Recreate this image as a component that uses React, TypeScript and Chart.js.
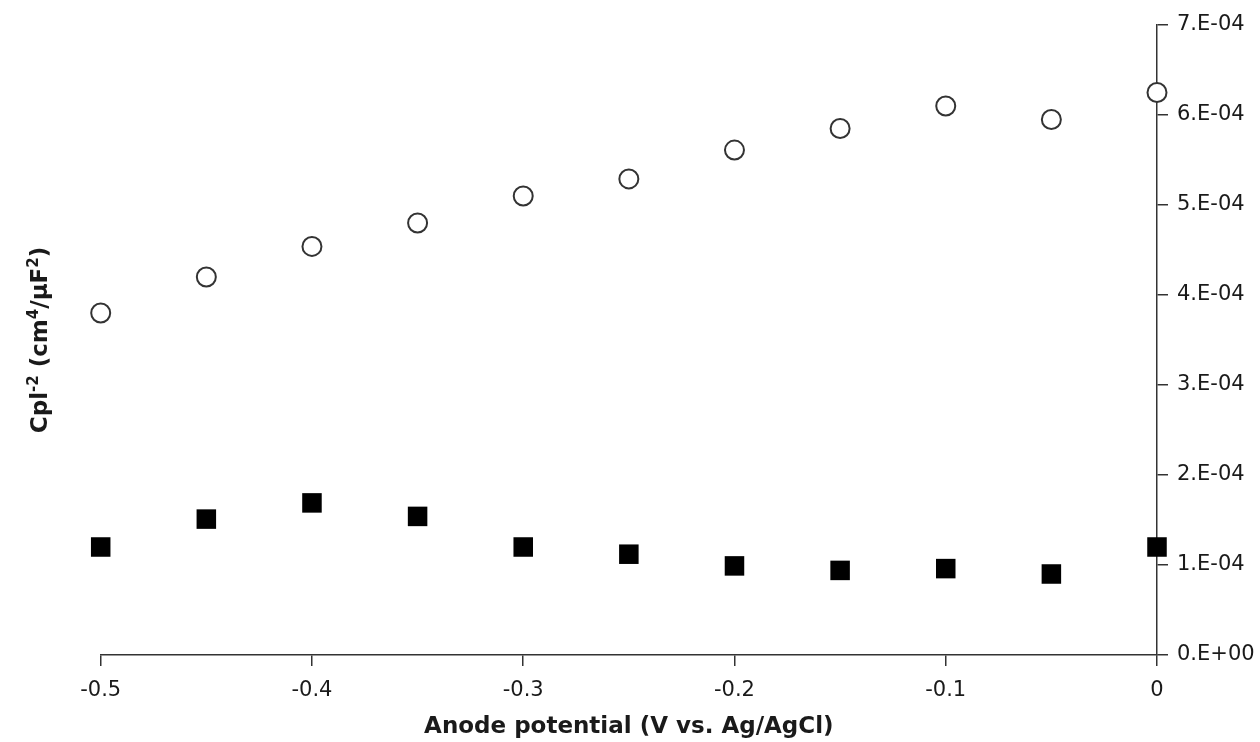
import React, { useEffect, useRef } from "react";
import { Chart, registerables } from "chart.js";

Chart.register(...registerables);

// ---- data ----
const potentials = [-0.5, -0.45, -0.4, -0.35, -0.3, -0.25, -0.2, -0.15, -0.1, -0.05, 0];
const openCircleValues = [3.8e-4, 4.2e-4, 4.54e-4, 4.8e-4, 5.1e-4, 5.29e-4, 5.61e-4, 5.85e-4, 6.1e-4, 5.95e-4, 6.25e-4];
const filledSquareValues = [1.2e-4, 1.51e-4, 1.69e-4, 1.54e-4, 1.2e-4, 1.12e-4, 0.99e-4, 0.94e-4, 0.96e-4, 0.9e-4, 1.2e-4];
const xAxisTitle = "Anode potential (V vs. Ag/AgCl)";
const yAxisTitleParts = [
  { text: "Cpl", sup: false },
  { text: "-2", sup: true },
  { text: " (cm", sup: false },
  { text: "4", sup: true },
  { text: "/\u03bcF", sup: false },
  { text: "2", sup: true },
  { text: ")", sup: false },
];

const FONT = "'DejaVu Sans', 'Liberation Sans', Arial, sans-serif";
const AXIS_COLOR = "#333";
const TEXT_COLOR = "#1a1a1a";

function fmtSci(v: number): string {
  if (Math.abs(v) < 1e-12) return "0.E+00";
  const e = Math.floor(Math.log10(Math.abs(v)) + 1e-9);
  const m = Math.round(v / Math.pow(10, e));
  return `${m}.E${e < 0 ? "-" : "+"}${String(Math.abs(e)).padStart(2, "0")}`;
}

function fmtX(v: number): string {
  if (Math.abs(v) < 1e-9) return "0";
  return v.toFixed(1);
}

const titlesPlugin = {
  id: "titlesPlugin",
  afterDraw(chart: any) {
    const ctx = chart.ctx as CanvasRenderingContext2D;
    const area = chart.chartArea;
    ctx.save();
    ctx.fillStyle = TEXT_COLOR;
    // x title
    ctx.font = `bold 23px ${FONT}`;
    ctx.textAlign = "center";
    ctx.textBaseline = "alphabetic";
    ctx.fillText(xAxisTitle, (area.left + area.right) / 2, 733);

    // y title (rotated, with superscripts)
    const mainFont = `bold 23px ${FONT}`;
    const supFont = `bold 15px ${FONT}`;
    let total = 0;
    for (const p of yAxisTitleParts) {
      ctx.font = p.sup ? supFont : mainFont;
      total += ctx.measureText(p.text).width;
    }
    const cy = 340;
    ctx.translate(47, cy + total / 2);
    ctx.rotate(-Math.PI / 2);
    ctx.textAlign = "left";
    let x = 0;
    for (const p of yAxisTitleParts) {
      ctx.font = p.sup ? supFont : mainFont;
      ctx.fillText(p.text, x, p.sup ? -9 : 0);
      x += ctx.measureText(p.text).width;
    }
    ctx.restore();
  },
};

export default function App() {
  const canvasRef = useRef<HTMLCanvasElement | null>(null);

  useEffect(() => {
    document.body.style.margin = "0";
    const canvas = canvasRef.current;
    if (!canvas) return;
    const chart = new Chart(canvas, {
      type: "scatter",
      data: {
        datasets: [
          {
            label: "open",
            data: potentials.map((x, i) => ({ x, y: openCircleValues[i] })),
            pointStyle: "circle",
            pointRadius: 9.5,
            pointBorderWidth: 2,
            pointBorderColor: "#333",
            pointBackgroundColor: "#fff",
            showLine: false,
            clip: false as any,
          },
          {
            label: "filled",
            data: potentials.map((x, i) => ({ x, y: filledSquareValues[i] })),
            pointStyle: "rect",
            pointRadius: 13.8,
            pointBorderWidth: 0,
            pointBackgroundColor: "#000",
            pointBorderColor: "#000",
            showLine: false,
            clip: false as any,
          },
        ],
      },
      options: {
        responsive: false,
        animation: false,
        devicePixelRatio: 1,
        layout: { padding: { left: 100.7, top: 25, right: 0, bottom: 0 } },
        plugins: {
          legend: { display: false },
          tooltip: { enabled: false },
        },
        scales: {
          x: {
            type: "linear",
            position: "bottom",
            min: -0.5,
            max: 0,
            afterFit: (scale: any) => {
              scale.height = 87;
            },
            ticks: {
              stepSize: 0.1,
              callback: (v: any) => fmtX(Number(v)),
              font: { family: FONT, size: 21 },
              color: TEXT_COLOR,
              padding: 12,
              maxRotation: 0,
            },
            grid: {
              display: true,
              drawOnChartArea: false,
              drawTicks: true,
              tickLength: 11,
              color: AXIS_COLOR,
              lineWidth: 1.5,
            },
            border: { display: true, color: AXIS_COLOR, width: 1.5 },
          },
          y: {
            type: "linear",
            position: "right",
            min: 0,
            max: 7e-4,
            afterFit: (scale: any) => {
              scale.width = 103;
            },
            ticks: {
              stepSize: 1e-4,
              callback: (v: any) => fmtSci(Number(v)),
              font: { family: FONT, size: 21 },
              color: TEXT_COLOR,
              padding: 9,
            },
            grid: {
              display: true,
              drawOnChartArea: false,
              drawTicks: true,
              tickLength: 11,
              color: AXIS_COLOR,
              lineWidth: 1.5,
            },
            border: { display: true, color: AXIS_COLOR, width: 1.5 },
          },
        },
      },
      plugins: [titlesPlugin],
    });
    return () => chart.destroy();
  }, []);

  return (
    <div style={{ position: "absolute", left: 0, top: 0, width: 1260, height: 742, background: "#fff" }}>
      <canvas ref={canvasRef} width={1260} height={742} style={{ width: 1260, height: 742, display: "block" }} />
    </div>
  );
}
